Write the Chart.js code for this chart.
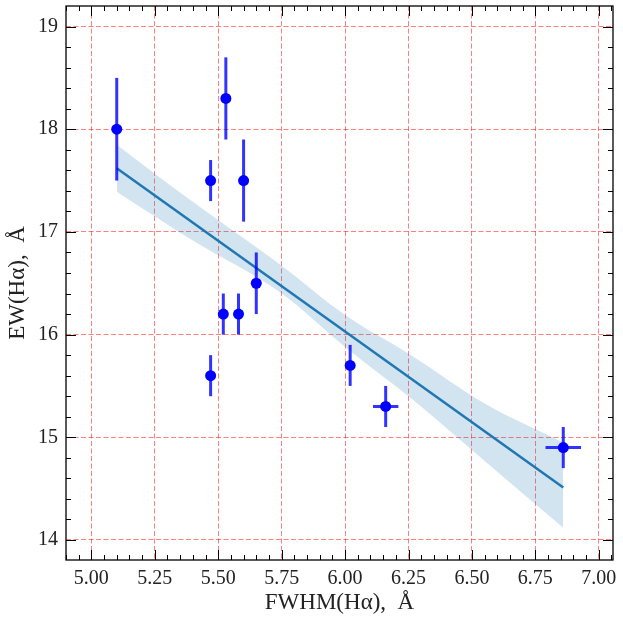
<!DOCTYPE html>
<html>
<head>
<meta charset="utf-8">
<script src="https://cdn.jsdelivr.net/npm/chart.js@4/dist/chart.umd.min.js"></script>
<style>
    html, body { margin: 0; padding: 0; background: #fff; }
    #wrap { width: 623px; height: 619px; }
</style>
</head>
<body>
<div id="wrap"><canvas id="chart" width="623" height="619"></canvas></div>
<script>
// measured points (FWHM, EW) with errors
let fwhm = [5.10, 5.47, 5.53, 5.60, 5.65, 5.52, 5.58, 5.47, 6.02, 6.16, 6.86];
let ew = [18.0, 17.5, 18.3, 17.5, 16.5, 16.2, 16.2, 15.6, 15.7, 15.3, 14.9];
let ewErr = [0.5, 0.2, 0.4, 0.4, 0.3, 0.2, 0.2, 0.2, 0.2, 0.2, 0.2];
let fwhmErr = [0, 0, 0, 0, 0, 0, 0, 0, 0, 0.05, 0.07];

// regression line and its confidence band
let fitX = [5.10, 6.86];
let fitY = [17.62, 14.51];
let bandX = [5.10, 5.39, 5.75, 6.00, 6.26, 6.55, 6.86];
let bandUpper = [17.85, 17.31, 16.67, 16.19, 15.80, 15.33, 14.95];
let bandLower = [17.39, 16.93, 16.40, 15.88, 15.38, 14.77, 14.12];

let xTicks = [5.00, 5.25, 5.50, 5.75, 6.00, 6.25, 6.50, 6.75, 7.00];
let yTicks = [14, 15, 16, 17, 18, 19];

const blue = "#0000ff";
const serif = "'Liberation Serif', 'Times New Roman', serif";

function pts(xs, ys) {
    return xs.map((x, i) => ({ x: x, y: ys[i] }));
}

// error bars under the markers
const errorBars = {
    id: "errorBars",
    beforeDatasetDraw(chart, args) {
        if (args.index !== 3) return;
        let ctx = chart.ctx;
        let xs = chart.scales.x, ys = chart.scales.y;
        ctx.save();
        ctx.strokeStyle = "rgba(0,0,255,0.8)";
        ctx.lineWidth = 3;
        fwhm.forEach((x, i) => {
            let px = xs.getPixelForValue(x);
            ctx.beginPath();
            ctx.moveTo(px, ys.getPixelForValue(ew[i] - ewErr[i]));
            ctx.lineTo(px, ys.getPixelForValue(ew[i] + ewErr[i]));
            ctx.stroke();
            if (fwhmErr[i] > 0) {
                let py = ys.getPixelForValue(ew[i]);
                ctx.beginPath();
                ctx.moveTo(xs.getPixelForValue(x - fwhmErr[i]), py);
                ctx.lineTo(xs.getPixelForValue(x + fwhmErr[i]), py);
                ctx.stroke();
            }
        });
        ctx.restore();
    }
};

// frame with inward ticks on all sides
const frame = {
    id: "frame",
    afterDraw(chart) {
        let ctx = chart.ctx;
        let a = chart.chartArea;
        let xs = chart.scales.x, ys = chart.scales.y;
        ctx.save();
        ctx.strokeStyle = "#000";
        ctx.lineWidth = 1;
        ctx.beginPath();

        function xTick(v, len) {
            let p = Math.round(xs.getPixelForValue(v)) + 0.5;
            ctx.moveTo(p, a.bottom); ctx.lineTo(p, a.bottom - len);
            ctx.moveTo(p, a.top); ctx.lineTo(p, a.top + len);
        }
        function yTick(v, len) {
            let p = Math.round(ys.getPixelForValue(v)) + 0.5;
            ctx.moveTo(a.left, p); ctx.lineTo(a.left + len, p);
            ctx.moveTo(a.right, p); ctx.lineTo(a.right - len, p);
        }

        for (let k = 98; k <= 141; k++) {
            let v = k * 0.05;
            if (v < xs.min || v > xs.max) continue;
            xTick(v, k % 5 === 0 ? 10 : 5);
        }
        for (let k = 69; k <= 96; k++) {
            let v = k * 0.2;
            if (v < ys.min || v > ys.max) continue;
            yTick(v, k % 5 === 0 ? 10 : 5);
        }
        ctx.stroke();

        ctx.lineWidth = 1.3;
        ctx.strokeRect(a.left, a.top, a.right - a.left, a.bottom - a.top);
        ctx.restore();
    }
};

new Chart(document.getElementById("chart"), {
    type: "scatter",
    data: {
        datasets: [
            {
                data: pts(bandX, bandUpper),
                showLine: true,
                cubicInterpolationMode: "monotone",
                borderWidth: 0,
                borderColor: "rgba(0,0,0,0)",
                backgroundColor: "rgba(31,119,180,0.2)",
                pointRadius: 0,
                fill: "+1",
                order: 3
            },
            {
                data: pts(bandX, bandLower),
                showLine: true,
                cubicInterpolationMode: "monotone",
                borderWidth: 0,
                borderColor: "rgba(0,0,0,0)",
                pointRadius: 0,
                fill: false,
                order: 3
            },
            {
                data: pts(fitX, fitY),
                showLine: true,
                borderColor: "#1f77b4",
                borderWidth: 2.5,
                pointRadius: 0,
                fill: false,
                order: 2
            },
            {
                data: pts(fwhm, ew),
                pointRadius: 5.5,
                pointBackgroundColor: blue,
                pointBorderColor: blue,
                pointBorderWidth: 0,
                order: 1
            }
        ]
    },
    options: {
        responsive: false,
        animation: false,
        layout: { padding: { top: 6, right: 10, left: 0, bottom: 0 } },
        plugins: {
            legend: { display: false },
            tooltip: { enabled: false }
        },
        scales: {
            x: {
                type: "linear",
                min: 4.9,
                max: 7.056,
                afterBuildTicks: s => { s.ticks = xTicks.map(v => ({ value: v })); },
                afterFit: s => { s.height = 59; s.paddingLeft = 0; s.paddingRight = 0; },
                grid: { color: "rgba(255,0,0,0.5)", lineWidth: 1, drawTicks: false },
                border: { display: false, dash: [5, 2.5] },
                ticks: {
                    padding: 7,
                    color: "#222",
                    font: { family: serif, size: 20 },
                    callback: v => v.toFixed(2)
                },
                title: {
                    display: true,
                    text: "FWHM(H\u03b1),  \u00c5",
                    color: "#222",
                    font: { family: serif, size: 23 },
                    padding: { top: 0, bottom: 2 }
                }
            },
            y: {
                type: "linear",
                min: 13.805,
                max: 19.2,
                afterBuildTicks: s => { s.ticks = yTicks.map(v => ({ value: v })); },
                afterFit: s => { s.width = 66; s.paddingTop = 0; s.paddingBottom = 0; },
                grid: { color: "rgba(255,0,0,0.5)", lineWidth: 1, drawTicks: false },
                border: { display: false, dash: [5, 2.5] },
                ticks: {
                    padding: 8,
                    color: "#222",
                    font: { family: serif, size: 20 },
                    callback: v => String(v)
                },
                title: {
                    display: true,
                    text: "EW(H\u03b1),  \u00c5",
                    color: "#222",
                    font: { family: serif, size: 23 },
                    padding: { top: 4, bottom: 0 }
                }
            }
        }
    },
    plugins: [errorBars, frame]
});
</script>
</body>
</html>
